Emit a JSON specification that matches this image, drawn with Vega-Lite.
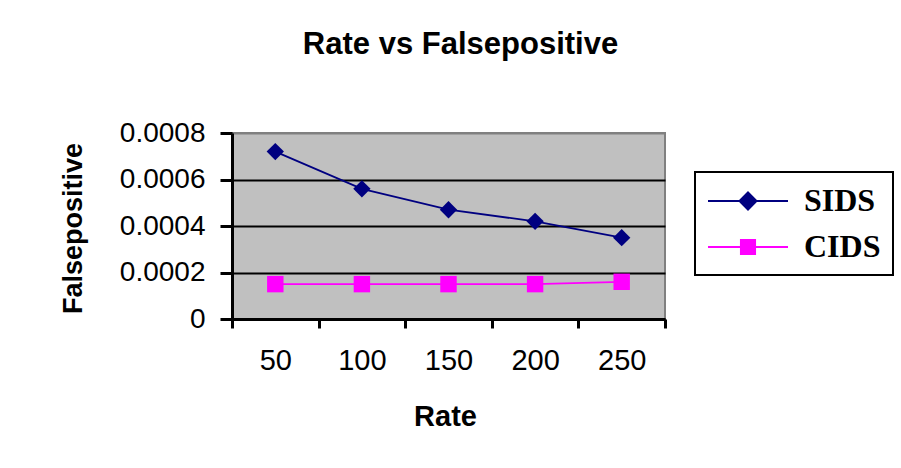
{
  "$schema": "https://vega.github.io/schema/vega-lite/v6.json",
  "autosize": "none",
  "width": 433,
  "height": 186,
  "padding": {"left": 232, "top": 133, "right": 236, "bottom": 149},
  "background": "white",
  "title": {
    "text": "Rate vs Falsepositive",
    "font": "Liberation Sans",
    "fontSize": 31,
    "fontWeight": "bold",
    "color": "black",
    "anchor": "middle",
    "dx": 12,
    "offset": 58
  },
  "data": {
    "values": [
      {"rate": 50, "series": "SIDS", "fp": 0.00072},
      {"rate": 100, "series": "SIDS", "fp": 0.00056},
      {"rate": 150, "series": "SIDS", "fp": 0.00047},
      {"rate": 200, "series": "SIDS", "fp": 0.00042},
      {"rate": 250, "series": "SIDS", "fp": 0.00035},
      {"rate": 50, "series": "CIDS", "fp": 0.00015},
      {"rate": 100, "series": "CIDS", "fp": 0.00015},
      {"rate": 150, "series": "CIDS", "fp": 0.00015},
      {"rate": 200, "series": "CIDS", "fp": 0.00015},
      {"rate": 250, "series": "CIDS", "fp": 0.00016}
    ]
  },
  "encoding": {
    "x": {
      "field": "rate",
      "type": "ordinal",
      "scale": {"paddingInner": 0, "paddingOuter": 0},
      "axis": {
        "title": "Rate",
        "titleFont": "Liberation Sans",
        "titleFontSize": 29,
        "titleFontWeight": "bold",
        "titleColor": "black",
        "titleX": 213,
        "titleY": 106,
        "titleBaseline": "alphabetic",
        "labelAngle": 0,
        "labelFont": "Liberation Sans",
        "labelFontSize": 29,
        "labelColor": "black",
        "labelBaseline": "alphabetic",
        "labelPadding": 41,
        "tickBand": "extent",
        "tickSize": 9,
        "tickWidth": 3,
        "tickColor": "black",
        "domainColor": "black",
        "domainWidth": 3,
        "grid": false
      }
    },
    "y": {
      "field": "fp",
      "type": "quantitative",
      "scale": {"domain": [0, 0.0008], "nice": false, "zero": true},
      "axis": {
        "title": "Falsepositive",
        "titleFont": "Liberation Sans",
        "titleFontSize": 27,
        "titleFontWeight": "bold",
        "titleColor": "black",
        "titleX": -159,
        "titleY": 95,
        "titleAlign": "center",
        "titleBaseline": "middle",
        "values": [0, 0.0002, 0.0004, 0.0006, 0.0008],
        "format": ".4~f",
        "labelFont": "Liberation Sans",
        "labelFontSize": 28,
        "labelColor": "black",
        "labelPadding": 15,
        "tickSize": 12,
        "tickWidth": 3,
        "tickColor": "black",
        "domainColor": "black",
        "domainWidth": 3,
        "grid": true,
        "gridColor": {"condition": {"test": "datum.value >= 0.0008", "value": "#808080"}, "value": "black"},
        "gridWidth": 2
      }
    },
    "color": {
      "field": "series",
      "type": "nominal",
      "scale": {"domain": ["SIDS", "CIDS"], "range": ["#000080", "#FF00FF"]},
      "legend": {
        "title": null,
        "orient": "none",
        "legendX": 463,
        "legendY": 39,
        "padding": 12,
        "strokeColor": "black",
        "symbolSize": 1024,
        "symbolStrokeWidth": 2,
        "labelFont": "Liberation Serif",
        "labelFontSize": 32,
        "labelFontWeight": "bold",
        "labelColor": "black",
        "labelOffset": 63,
        "rowPadding": 13,
        "encode": {
          "legend": {"update": {"strokeWidth": {"value": 2}}},
          "symbols": {
            "update": {
              "shape": {"signal": "datum.value === 'SIDS' ? 'M-1,0H4M1.5,-0.53L2.03,0L1.5,0.53L0.97,0Z' : 'M-1,0H4M1.06,-0.44H1.94V0.44H1.06Z'"},
              "fill": {"signal": "scale('color', datum.value)"},
              "stroke": {"signal": "scale('color', datum.value)"},
              "strokeWidth": {"value": 2},
              "size": {"value": 1024},
              "opacity": {"value": 1}
            }
          }
        }
      }
    }
  },
  "layer": [
    {
      "mark": {"type": "line", "strokeWidth": 1.8}
    },
    {
      "transform": [{"filter": "datum.series === 'SIDS'"}],
      "mark": {"type": "point", "shape": "diamond", "filled": true, "size": 300, "opacity": 1}
    },
    {
      "transform": [{"filter": "datum.series === 'CIDS'"}],
      "mark": {"type": "point", "shape": "square", "filled": true, "size": 270, "opacity": 1}
    }
  ],
  "config": {
    "view": {"fill": "#C0C0C0", "stroke": "#808080", "strokeWidth": 2}
  }
}
